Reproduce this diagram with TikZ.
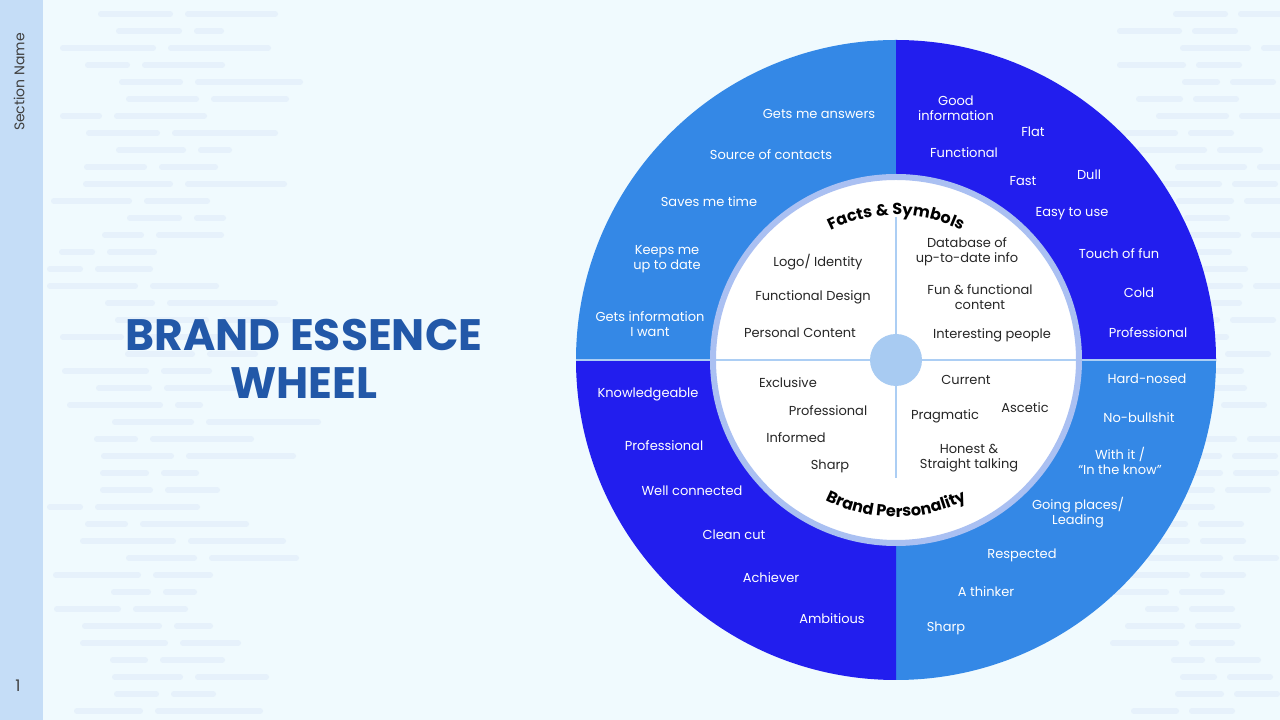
\documentclass[tikz,border=0pt]{standalone}
\usepackage{fontspec}
\setmainfont{Poppins}
\usetikzlibrary{decorations.text}
\definecolor{PageBg}{RGB}{240,250,254}
\definecolor{SideBar}{RGB}{197,221,247}
\definecolor{DashGrey}{RGB}{230,241,251}
\definecolor{SkyQuad}{RGB}{52,136,230}
\definecolor{DeepQuad}{RGB}{34,30,238}
\definecolor{RingBlue}{RGB}{170,192,242}
\definecolor{SplitBlue}{RGB}{172,206,244}
\definecolor{HubBlue}{RGB}{168,203,242}
\definecolor{TitleBlue}{RGB}{34,88,168}
\newcommand{\arcfont}{\fontsize{16}{16}\selectfont\bfseries}

\begin{document}
\begin{tikzpicture}[x=1pt,y=1pt,
    outerlbl/.style={text=white, font=\fontsize{13}{15}\selectfont, align=center, inner sep=0pt},
    innerlbl/.style={text=black!85, font=\fontsize{13}{15}\selectfont, align=center, inner sep=0pt},
    split/.style={draw=SplitBlue, line width=2.5pt},
    bgdash/.style={draw=DashGrey, line width=6pt, line cap=round}
  ]
    \useasboundingbox (0,0) rectangle (1280,720);

    % Page and side bar
    \fill[PageBg] (0,0) rectangle (1280,720);
    \fill[SideBar] (0,0) rectangle (43,720);

    % Faint background dashes
    \begin{scope}
      \clip (0,0) rectangle (1280,720);
      \pgfmathsetseed{7}
      \foreach \r in {0,...,41} {
        \pgfmathsetmacro{\yy}{706-17*\r}
        \pgfmathrandominteger{\xa}{50}{130}
        \pgfmathrandominteger{\wa}{30}{90}
        \pgfmathrandominteger{\wb}{20}{110}
        \draw[bgdash] (\xa,\yy) -- ++(\wa,0) ++(18,0) -- ++(\wb,0);
        \pgfmathrandominteger{\xc}{1105}{1190}
        \pgfmathrandominteger{\wc}{25}{70}
        \draw[bgdash] (\xc,\yy) -- ++(\wc,0) ++(16,0) -- ++(40,0);
      }
    \end{scope}

    % Side bar texts
    \node[rotate=90, text=black!75, font=\fontsize{14}{14}\selectfont] (section) at (19,638) {Section Name};
    \node[text=black!75, font=\fontsize{16}{16}\selectfont] (pagenum) at (18,34) {1};

    % Title
    \node[text=TitleBlue, font=\fontsize{44}{48}\selectfont\bfseries, align=center] (title) at (304,361)
      {BRAND ESSENCE\\WHEEL};

    % Wheel quadrants
    \coordinate (hub) at (896,360);
    \fill[SkyQuad]  (hub) -- ++(180:320) arc[start angle=180, end angle=90,  radius=320] -- cycle;
    \fill[DeepQuad] (hub) -- ++(90:320)  arc[start angle=90,  end angle=0,   radius=320] -- cycle;
    \fill[SkyQuad]  (hub) -- ++(0:320)   arc[start angle=0,   end angle=-90, radius=320] -- cycle;
    \fill[DeepQuad] (hub) -- ++(-90:320) arc[start angle=-90, end angle=-180,radius=320] -- cycle;
    \draw[split] (576,360) -- (1216,360);

    % Inner disc
    \draw[RingBlue, line width=6pt, fill=white] (hub) circle[radius=183];
    \draw[split] (716,360) -- (1076,360);
    \draw[split] (896,503) -- (896,386);
    \draw[split] (896,334) -- (896,242);
    \fill[HubBlue] (hub) circle[radius=26];

    % Curved headings
    \path[decorate, decoration={text along path, text align=center,
        text={|\arcfont|Facts {\&} Symbols}}]
      (hub) ++(152:145) arc[start angle=152, end angle=28, radius=145];
    \path[decorate, decoration={text along path, text align=center,
        text={|\arcfont|Brand Personality}}]
      (hub) ++(205:157) arc[start angle=205, end angle=335, radius=157];

    % Outer ring, top left
    \node[outerlbl] (tl1) at (819,606) {Gets me answers};
    \node[outerlbl] (tl2) at (771,565) {Source of contacts};
    \node[outerlbl] (tl3) at (709,518) {Saves me time};
    \node[outerlbl] (tl4) at (667,461) {Keeps me\\up to date};
    \node[outerlbl] (tl5) at (650,396) {Gets information\\I want};

    % Outer ring, top right
    \node[outerlbl] (tr1) at (956,612) {Good\\information};
    \node[outerlbl] (tr2) at (1033,588) {Flat};
    \node[outerlbl] (tr3) at (964,567) {Functional};
    \node[outerlbl] (tr4) at (1023,539) {Fast};
    \node[outerlbl] (tr5) at (1089,545) {Dull};
    \node[outerlbl] (tr6) at (1072,506) {Easy to use};
    \node[outerlbl] (tr7) at (1119,466) {Touch of fun};
    \node[outerlbl] (tr8) at (1139,427) {Cold};
    \node[outerlbl] (tr9) at (1148,387) {Professional};

    % Outer ring, bottom right
    \node[outerlbl] (br1) at (1147,341) {Hard-nosed};
    \node[outerlbl] (br2) at (1139,302) {No-bullshit};
    \node[outerlbl] (br3) at (1120,259) {With it /\\“In the know”};
    \node[outerlbl] (br4) at (1078,207) {Going places/\\Leading};
    \node[outerlbl] (br5) at (1022,165) {Respected};
    \node[outerlbl] (br6) at (986,128) {A thinker};
    \node[outerlbl] (br7) at (946,92) {Sharp};

    % Outer ring, bottom left
    \node[outerlbl] (bl1) at (648,326) {Knowledgeable};
    \node[outerlbl] (bl2) at (664,274) {Professional};
    \node[outerlbl] (bl3) at (692,229) {Well connected};
    \node[outerlbl] (bl4) at (734,185) {Clean cut};
    \node[outerlbl] (bl5) at (771,142) {Achiever};
    \node[outerlbl] (bl6) at (832,101) {Ambitious};

    % Inner disc, facts & symbols
    \node[innerlbl] (fs1) at (818,458) {Logo/ Identity};
    \node[innerlbl] (fs2) at (813,423) {Functional Design};
    \node[innerlbl] (fs3) at (800,387) {Personal Content};
    \node[innerlbl] (fs4) at (967,468) {Database of\\up-to-date info};
    \node[innerlbl] (fs5) at (980,423) {Fun \& functional\\content};
    \node[innerlbl] (fs6) at (992,385) {Interesting people};

    % Inner disc, brand personality
    \node[innerlbl] (bp1) at (788,337) {Exclusive};
    \node[innerlbl] (bp2) at (828,309) {Professional};
    \node[innerlbl] (bp3) at (796,282) {Informed};
    \node[innerlbl] (bp4) at (830,254) {Sharp};
    \node[innerlbl] (bp5) at (966,340) {Current};
    \node[innerlbl] (bp6) at (1025,312) {Ascetic};
    \node[innerlbl] (bp7) at (945,304) {Pragmatic};
    \node[innerlbl] (bp8) at (969,262) {Honest \&\\Straight talking};

  \end{tikzpicture}
\end{document}
